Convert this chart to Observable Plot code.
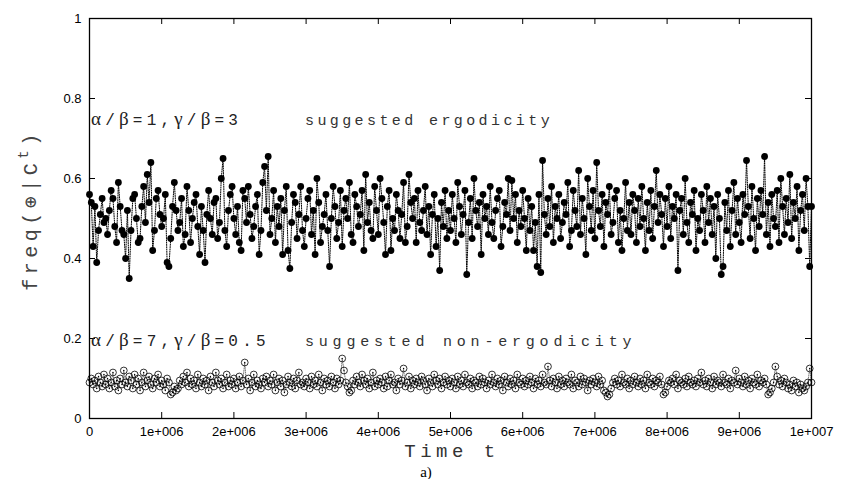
<!DOCTYPE html>
<html><head><meta charset="utf-8">
<script src="https://cdn.jsdelivr.net/npm/d3@7"></script>
<script src="https://cdn.jsdelivr.net/npm/@observablehq/plot@0.6"></script>
<style>body{margin:0;background:#fff} svg{display:block}</style>
</head><body><div id="chart"></div>
<script>
// Series 1: alpha/beta=1, gamma/beta=3 (filled dots)
const ergodic = [
0.56,0.54,0.43,0.53,0.39,0.47,0.51,0.55,0.49,0.50,0.46,0.52,0.57,0.55,0.48,0.44,0.59,0.53,0.47,0.46,
0.40,0.52,0.35,0.47,0.55,0.56,0.50,0.44,0.45,0.53,0.58,0.49,0.61,0.54,0.64,0.42,0.47,0.55,0.57,0.51,
0.48,0.50,0.56,0.39,0.38,0.45,0.53,0.59,0.52,0.47,0.49,0.55,0.43,0.46,0.58,0.52,0.44,0.50,0.54,0.56,
0.48,0.41,0.53,0.47,0.39,0.51,0.57,0.50,0.46,0.54,0.55,0.45,0.49,0.60,0.65,0.47,0.43,0.52,0.56,0.58,
0.50,0.46,0.53,0.44,0.42,0.57,0.55,0.49,0.58,0.51,0.45,0.48,0.53,0.56,0.41,0.47,0.59,0.63,0.52,0.655,
0.46,0.50,0.57,0.44,0.53,0.48,0.55,0.41,0.52,0.58,0.42,0.375,0.49,0.56,0.54,0.45,0.51,0.58,0.47,0.43,
0.50,0.55,0.57,0.46,0.52,0.41,0.60,0.54,0.44,0.48,0.51,0.56,0.47,0.38,0.50,0.58,0.53,0.45,0.49,0.57,
0.43,0.52,0.55,0.50,0.59,0.46,0.44,0.56,0.53,0.48,0.51,0.57,0.42,0.61,0.49,0.54,0.47,0.45,0.58,0.52,
0.46,0.60,0.55,0.49,0.41,0.53,0.57,0.42,0.50,0.47,0.56,0.52,0.45,0.51,0.59,0.44,0.48,0.61,0.54,0.50,
0.55,0.44,0.57,0.49,0.47,0.52,0.58,0.46,0.53,0.41,0.51,0.56,0.43,0.50,0.37,0.54,0.48,0.57,0.45,0.52,
0.47,0.56,0.50,0.44,0.59,0.53,0.46,0.51,0.57,0.36,0.49,0.55,0.45,0.60,0.52,0.48,0.54,0.41,0.56,0.50,
0.53,0.46,0.58,0.49,0.45,0.52,0.55,0.57,0.43,0.48,0.54,0.51,0.60,0.47,0.595,0.50,0.56,0.44,0.52,0.48,
0.57,0.50,0.42,0.55,0.47,0.53,0.42,0.49,0.38,0.56,0.365,0.645,0.51,0.46,0.55,0.48,0.58,0.44,0.53,0.50,
0.56,0.45,0.49,0.54,0.51,0.59,0.43,0.47,0.57,0.52,0.48,0.62,0.46,0.55,0.50,0.41,0.60,0.53,0.47,0.57,
0.45,0.64,0.52,0.48,0.56,0.43,0.54,0.51,0.58,0.46,0.49,0.55,0.57,0.44,0.52,0.42,0.50,0.59,0.47,0.54,
0.46,0.56,0.52,0.44,0.55,0.48,0.58,0.50,0.42,0.54,0.47,0.57,0.45,0.53,0.62,0.49,0.56,0.51,0.43,0.55,
0.48,0.58,0.45,0.53,0.50,0.56,0.37,0.52,0.55,0.46,0.60,0.49,0.44,0.54,0.51,0.57,0.42,0.50,0.47,0.56,
0.52,0.44,0.58,0.49,0.55,0.46,0.53,0.40,0.56,0.50,0.36,0.38,0.54,0.47,0.57,0.43,0.52,0.59,0.46,0.55,
0.49,0.44,0.56,0.51,0.645,0.53,0.45,0.58,0.50,0.42,0.55,0.48,0.57,0.51,0.655,0.46,0.54,0.43,0.56,0.50,
0.48,0.57,0.44,0.60,0.53,0.46,0.55,0.49,0.61,0.45,0.54,0.50,0.58,0.42,0.52,0.56,0.47,0.60,0.53,0.38,
0.53];
// Series 2: alpha/beta=7, gamma/beta=0.5 (open circles)
const nonErgodic = [
0.09,0.10,0.085,0.095,0.075,0.105,0.09,0.08,0.11,0.085,0.10,0.075,0.09,0.115,0.08,0.095,0.07,0.10,0.085,0.12,
0.09,0.08,0.105,0.095,0.075,0.11,0.085,0.10,0.07,0.09,0.115,0.08,0.095,0.105,0.085,0.075,0.10,0.09,0.11,0.08,
0.095,0.085,0.07,0.10,0.09,0.06,0.065,0.08,0.07,0.075,0.095,0.085,0.105,0.09,0.115,0.08,0.10,0.085,0.095,0.075,
0.11,0.09,0.08,0.10,0.085,0.095,0.07,0.105,0.09,0.08,0.115,0.095,0.085,0.10,0.075,0.09,0.11,0.08,0.095,0.085,
0.10,0.075,0.09,0.105,0.08,0.095,0.14,0.085,0.10,0.07,0.09,0.11,0.08,0.095,0.085,0.075,0.10,0.09,0.105,0.08,
0.095,0.085,0.11,0.07,0.09,0.10,0.08,0.095,0.065,0.085,0.105,0.09,0.08,0.10,0.075,0.095,0.115,0.085,0.09,0.08,
0.10,0.09,0.075,0.105,0.085,0.095,0.08,0.11,0.09,0.07,0.10,0.085,0.095,0.08,0.105,0.09,0.075,0.10,0.085,0.095,
0.15,0.12,0.09,0.08,0.065,0.07,0.095,0.085,0.105,0.09,0.08,0.11,0.095,0.085,0.10,0.075,0.09,0.115,0.08,0.095,
0.085,0.10,0.09,0.075,0.105,0.08,0.095,0.11,0.085,0.09,0.07,0.10,0.085,0.095,0.125,0.08,0.09,0.105,0.075,0.095,
0.085,0.10,0.09,0.08,0.105,0.095,0.085,0.07,0.10,0.09,0.08,0.11,0.095,0.085,0.10,0.075,0.09,0.105,0.085,0.095,
0.08,0.10,0.09,0.075,0.105,0.085,0.095,0.08,0.11,0.09,0.085,0.10,0.075,0.095,0.09,0.08,0.105,0.085,0.10,0.09,
0.075,0.095,0.085,0.11,0.09,0.08,0.10,0.085,0.095,0.07,0.105,0.09,0.08,0.10,0.085,0.095,0.075,0.11,0.09,0.085,
0.10,0.08,0.095,0.085,0.105,0.09,0.075,0.10,0.085,0.095,0.08,0.11,0.09,0.085,0.13,0.095,0.08,0.10,0.09,0.075,
0.105,0.085,0.095,0.08,0.10,0.09,0.085,0.11,0.075,0.095,0.09,0.08,0.105,0.085,0.10,0.09,0.07,0.095,0.085,0.10,
0.09,0.08,0.105,0.085,0.095,0.07,0.065,0.055,0.06,0.075,0.09,0.10,0.085,0.095,0.08,0.11,0.09,0.085,0.10,0.075,
0.095,0.085,0.105,0.09,0.08,0.10,0.085,0.095,0.075,0.11,0.09,0.085,0.10,0.08,0.095,0.09,0.105,0.085,0.06,0.065,
0.08,0.095,0.09,0.10,0.085,0.11,0.075,0.095,0.09,0.085,0.10,0.08,0.105,0.09,0.085,0.095,0.08,0.10,0.09,0.115,
0.085,0.095,0.08,0.10,0.09,0.075,0.105,0.085,0.095,0.09,0.08,0.11,0.09,0.085,0.10,0.075,0.095,0.09,0.12,0.085,
0.10,0.09,0.08,0.105,0.085,0.095,0.075,0.10,0.09,0.085,0.11,0.08,0.095,0.09,0.10,0.085,0.06,0.065,0.075,0.09,
0.13,0.105,0.085,0.095,0.08,0.10,0.09,0.075,0.085,0.07,0.095,0.08,0.09,0.065,0.085,0.075,0.07,0.08,0.09,0.125,
0.09];
const timeStart = 0, timeEnd = 1e7;
const xTicks = [0,1e6,2e6,3e6,4e6,5e6,6e6,7e6,8e6,9e6,1e7];
const xTickLabels = ["0","1e+006","2e+006","3e+006","4e+006","5e+006","6e+006","7e+006","8e+006","9e+006","1e+007"];
const yTicks = [0,0.2,0.4,0.6,0.8,1];
const yTickLabels = ["0","0.2","0.4","0.6","0.8","1"];
const label1 = "α/β=1,γ/β=3", note1 = "suggested ergodicity";
const label2 = "α/β=7,γ/β=0.5", note2 = "suggested non-ergodicity";

const toRows = arr => arr.map((v, i) => ({t: timeStart + i * (timeEnd - timeStart) / (arr.length - 1), v}));
const rowsA = toRows(ergodic), rowsB = toRows(nonErgodic);

const W = 842, H = 479, mL = 89, mR = 31, mT = 18, mB = 61;
const fw = W - mL - mR, fh = H - mT - mB, tl = 6;
const sans = "Liberation Sans, Arial, Helvetica, sans-serif";
const mono = "Liberation Mono, Courier New, DejaVu Sans Mono, monospace";

const plot = Plot.plot({
  width: W, height: H, marginLeft: mL, marginRight: mR, marginTop: mT, marginBottom: mB,
  x: {domain: [timeStart, timeEnd], axis: null},
  y: {domain: [0, 1], axis: null},
  style: {background: "#fff"},
  marks: [
    Plot.line(rowsB, {x: "t", y: "v", stroke: "#555", strokeWidth: 0.8, strokeDasharray: "1,1.3"}),
    Plot.dot(rowsB, {x: "t", y: "v", r: 3.4, stroke: "#000", strokeWidth: 0.8, fill: "none"}),
    Plot.dot(rowsB, {x: "t", y: "v", r: 0.7, fill: "#000", stroke: null}),
    Plot.line(rowsA, {x: "t", y: "v", stroke: "#000", strokeWidth: 1, strokeDasharray: "1,1.3"}),
    Plot.dot(rowsA, {x: "t", y: "v", r: 3.4, fill: "#000", stroke: null}),
    Plot.tickX(xTicks, {x: d => d, insetTop: fh - tl, stroke: "#000"}),
    Plot.tickX(xTicks, {x: d => d, insetBottom: fh - tl, stroke: "#000"}),
    Plot.tickY(yTicks, {y: d => d, insetRight: fw - tl, stroke: "#000"}),
    Plot.tickY(yTicks, {y: d => d, insetLeft: fw - tl, stroke: "#000"}),
    Plot.text(xTicks, {x: d => d, text: (d, i) => xTickLabels[i], frameAnchor: "bottom", lineAnchor: "middle", dy: 13,
      fontSize: 13, fontFamily: sans, fill: "#000", letterSpacing: 1.4}),
    Plot.text(yTicks, {y: d => d, text: (d, i) => yTickLabels[i], frameAnchor: "left", lineAnchor: "middle", textAnchor: "end", dx: -8,
      fontSize: 13, fontFamily: sans, fill: "#000", letterSpacing: 1.4}),
    Plot.frame({stroke: "#000", strokeWidth: 1.3})
  ]
});
document.getElementById("chart").appendChild(plot);

const svg = d3.select(plot);
const xs = plot.scale("x"), ys = plot.scale("y");
const x0 = xs.apply(timeStart);

function mixed(x, y, str, size, ls, fill) {
  const t = svg.append("text").attr("x", x).attr("y", y).attr("text-anchor", "start")
    .attr("font-family", mono).attr("font-size", size).attr("letter-spacing", ls).attr("fill", fill);
  const parts = str.match(/[α-ω]+|[^α-ω]+/g);
  for (const p of parts) {
    const g = /[α-ω]/.test(p);
    const s = t.append("tspan").text(p);
    if (g) s.attr("font-family", "Liberation Serif, Times New Roman, serif").attr("font-size", size + 3);
  }
  return t;
}
mixed(x0 + 2, ys.apply(0.732), label1, 16, 4.2, "#222");
mixed(x0 + 2, ys.apply(0.18), label2, 16, 4.2, "#222");
svg.append("text").attr("x", x0 + 216).attr("y", ys.apply(0.732)).attr("text-anchor", "start").attr("font-family", mono)
  .attr("font-size", 15).attr("letter-spacing", 3.4).attr("fill", "#333").text(note1);
svg.append("text").attr("x", x0 + 216).attr("y", ys.apply(0.18)).attr("text-anchor", "start").attr("font-family", mono)
  .attr("font-size", 15).attr("letter-spacing", 4.8).attr("fill", "#333").text(note2);

// axis titles
svg.append("text").attr("x", (mL + W - mR) / 2 + 2).attr("y", 457).attr("text-anchor", "middle")
  .attr("font-family", mono).attr("font-size", 19).attr("letter-spacing", 4.5).attr("fill", "#333").text("Time t");
svg.append("text").attr("x", 426).attr("y", 477).attr("text-anchor", "middle")
  .attr("font-family", "Liberation Serif, Times New Roman, serif").attr("font-size", 15).attr("fill", "#000").text("a)");
const yl = svg.append("text").attr("transform", `translate(37,${(mT + H - mB) / 2 - 8}) rotate(-90)`)
  .attr("text-anchor", "middle").attr("font-family", mono).attr("font-size", 20).attr("letter-spacing", 4.5).attr("fill", "#444");
yl.append("tspan").text("freq(⊕|C");
yl.append("tspan").attr("dy", -9).attr("font-size", 14).text("t");
yl.append("tspan").attr("dy", 9).text(")");
</script>
</body></html>
